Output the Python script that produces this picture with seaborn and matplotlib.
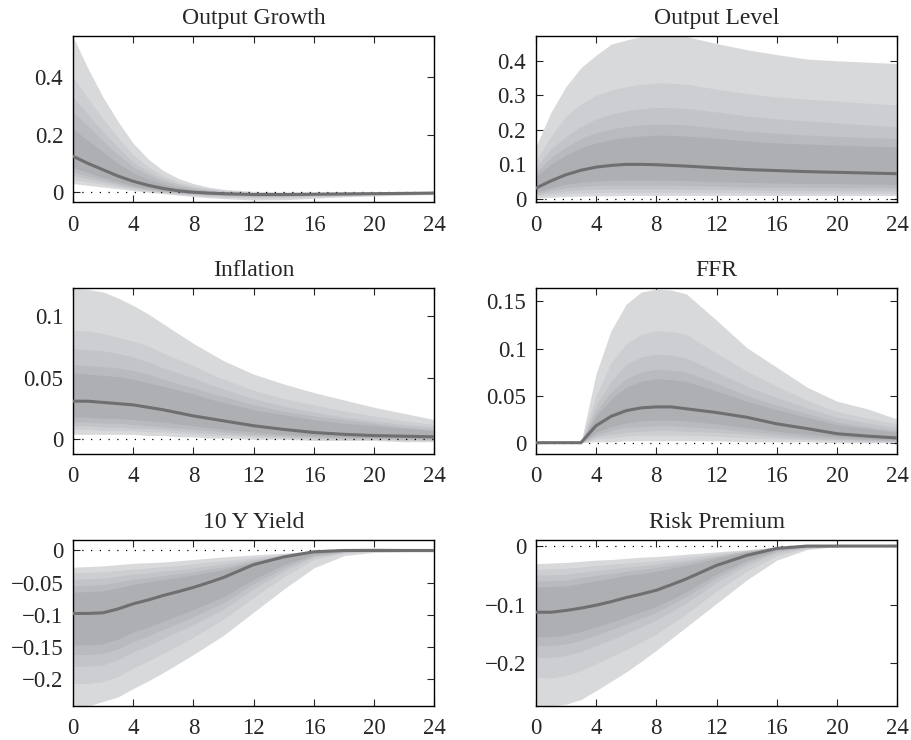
import numpy as np
import matplotlib
matplotlib.use("Agg")
import matplotlib.pyplot as plt
import seaborn as sns

# horizons (quarters)
H = [0, 1, 2, 3, 4, 5, 6, 7, 8, 9, 10, 12, 14, 16, 18, 20, 22, 24]

# Output Growth: median, upper bounds (outer -> inner), lower bounds (outer -> inner)
og_med = [.125, .10, .078, .056, .038, .024, .013, .005, .0, -.003, -.005, -.008, -.008, -.007, -.006, -.005, -.004, -.003]
og_hi = [
    [.54, .43, .33, .245, .17, .115, .075, .048, .03, .018, .01, .003, .001, .001, .001, .001, .001, .001],
    [.40, .325, .255, .19, .13, .088, .057, .036, .022, .013, .006, .0, -.001, -.001, .0, .0, .0, .0],
    [.33, .27, .21, .155, .105, .071, .046, .029, .017, .009, .003, -.002, -.003, -.003, -.002, -.002, -.001, -.001],
    [.28, .23, .178, .13, .088, .06, .038, .023, .013, .006, .001, -.004, -.004, -.004, -.003, -.003, -.002, -.002],
    [.22, .18, .14, .10, .068, .045, .028, .016, .008, .002, -.002, -.006, -.006, -.005, -.005, -.004, -.003, -.002],
]
og_lo = [
    [.03, .024, .018, .012, .006, .0, -.005, -.01, -.015, -.019, -.022, -.027, -.026, -.021, -.016, -.013, -.01, -.008],
    [.045, .036, .028, .019, .011, .004, -.002, -.007, -.011, -.014, -.017, -.020, -.019, -.016, -.013, -.010, -.008, -.006],
    [.058, .047, .036, .025, .015, .007, .001, -.004, -.008, -.011, -.014, -.016, -.016, -.013, -.010, -.008, -.006, -.005],
    [.07, .056, .043, .030, .019, .01, .003, -.002, -.006, -.009, -.011, -.014, -.013, -.011, -.009, -.007, -.005, -.004],
    [.085, .068, .052, .037, .024, .014, .006, .0, -.004, -.007, -.009, -.011, -.011, -.009, -.007, -.006, -.005, -.004],
]

# Output Level
ol_med = [.031, .052, .07, .083, .092, .097, .10, .10, .099, .097, .095, .09, .085, .082, .079, .077, .075, .073]
ol_hi = [
    [.15, .25, .325, .38, .416, .448, .46, .47, .474, .473, .47, .45, .432, .418, .405, .40, .396, .392],
    [.11, .18, .24, .275, .30, .315, .325, .332, .336, .335, .332, .318, .305, .295, .289, .283, .277, .272],
    [.09, .145, .18, .21, .232, .245, .255, .261, .265, .264, .262, .252, .24, .232, .226, .22, .214, .209],
    [.075, .12, .15, .175, .192, .202, .21, .214, .217, .216, .214, .205, .196, .19, .185, .181, .178, .175],
    [.065, .10, .127, .148, .162, .172, .178, .182, .185, .184, .182, .175, .168, .162, .159, .156, .153, .151],
]
ol_lo = [
    [.003, .005, .007, .008, .009, .009, .01, .01, .01, .01, .01, .01, .01, .01, .01, .01, .01, .01],
    [.008, .012, .015, .017, .018, .019, .019, .019, .019, .019, .019, .018, .018, .017, .017, .017, .017, .017],
    [.012, .018, .023, .026, .028, .029, .029, .029, .029, .029, .028, .027, .026, .025, .025, .024, .024, .024],
    [.016, .025, .032, .036, .039, .040, .040, .040, .040, .040, .039, .037, .035, .034, .034, .033, .033, .032],
    [.02, .032, .042, .048, .052, .054, .055, .055, .055, .054, .053, .05, .048, .046, .045, .044, .043, .042],
]

# Inflation
inf_med = [.031, .031, .030, .029, .028, .026, .024, .0215, .019, .017, .015, .011, .008, .0055, .004, .003, .0025, .002]
inf_hi = [
    [.123, .122, .12, .115, .109, .102, .094, .086, .078, .071, .064, .053, .045, .038, .032, .026, .021, .016],
    [.089, .088, .086, .083, .080, .076, .070, .065, .060, .054, .049, .040, .033, .028, .023, .019, .015, .012],
    [.074, .073, .072, .070, .067, .063, .058, .054, .050, .045, .041, .033, .027, .022, .018, .015, .012, .010],
    [.061, .060, .059, .058, .056, .053, .049, .045, .042, .038, .035, .028, .023, .019, .016, .013, .010, .008],
    [.054, .053, .052, .051, .049, .046, .043, .040, .037, .033, .030, .024, .020, .016, .013, .011, .009, .007],
]
inf_lo = [
    [.004, .004, .004, .004, .004, .003, .003, .002, .002, .001, .001, .0, .0, -.001, -.001, -.001, -.002, -.002],
    [.008, .008, .007, .007, .007, .006, .006, .005, .004, .003, .003, .002, .001, .0, .0, .0, -.001, -.001],
    [.011, .011, .010, .010, .009, .009, .008, .007, .006, .005, .004, .003, .002, .001, .0, .0, .0, -.001],
    [.014, .014, .013, .013, .012, .011, .010, .009, .008, .007, .006, .004, .003, .002, .001, .001, .0, .0],
    [.018, .018, .017, .017, .016, .015, .014, .0125, .011, .0095, .008, .006, .004, .003, .002, .001, .001, .0],
]

# FFR
ffr_med = [0, 0, 0, 0, .018, .028, .034, .037, .038, .038, .036, .032, .027, .02, .015, .0095, .007, .005]
ffr_hi = [
    [0, 0, 0, 0, .073, .119, .147, .16, .163, .162, .158, .13, .101, .08, .059, .044, .036, .025],
    [0, 0, 0, 0, .05, .085, .105, .115, .119, .118, .115, .095, .076, .06, .045, .033, .026, .02],
    [0, 0, 0, 0, .04, .065, .083, .091, .094, .093, .09, .075, .06, .048, .037, .027, .021, .016],
    [0, 0, 0, 0, .033, .054, .068, .075, .078, .077, .075, .063, .05, .04, .031, .022, .017, .013],
    [0, 0, 0, 0, .028, .046, .059, .065, .068, .067, .065, .055, .044, .035, .027, .019, .015, .011],
]
ffr_lo = [
    [0, 0, 0, 0, .001, .001, .002, .002, .002, .002, .002, .002, .001, .001, .001, .0, .0, .0],
    [0, 0, 0, 0, .004, .005, .007, .008, .008, .008, .008, .007, .005, .004, .003, .002, .001, .001],
    [0, 0, 0, 0, .006, .009, .011, .012, .013, .013, .012, .011, .009, .006, .004, .003, .002, .001],
    [0, 0, 0, 0, .008, .013, .016, .017, .018, .018, .017, .015, .012, .009, .006, .004, .003, .002],
    [0, 0, 0, 0, .011, .017, .021, .023, .024, .024, .023, .02, .016, .012, .009, .006, .004, .003],
]

# 10 Y Yield
ty_med = [-.098, -.098, -.097, -.091, -.083, -.077, -.07, -.064, -.0575, -.05, -.042, -.022, -.01, -.002, .0, .0, .0, .0]
ty_hi = [
    [-.026, -.025, -.024, -.022, -.020, -.019, -.018, -.016, -.014, -.012, -.010, -.007, -.004, -.001, .003, .004, .003, .001],
    [-.035, -.034, -.033, -.031, -.029, -.027, -.025, -.023, -.021, -.018, -.016, -.011, -.006, -.002, .002, .003, .002, .0],
    [-.045, -.044, -.043, -.040, -.037, -.035, -.032, -.030, -.027, -.024, -.021, -.014, -.007, -.002, .001, .002, .001, .0],
    [-.055, -.054, -.053, -.049, -.045, -.042, -.039, -.036, -.033, -.029, -.026, -.016, -.008, -.002, .001, .001, .001, .0],
    [-.065, -.064, -.063, -.058, -.053, -.049, -.045, -.042, -.038, -.034, -.030, -.018, -.009, -.003, .0, .001, .0, .0],
]
ty_lo = [
    [-.242, -.242, -.235, -.228, -.215, -.203, -.19, -.176, -.162, -.147, -.132, -.096, -.06, -.027, -.008, -.003, -.002, -.002],
    [-.207, -.207, -.204, -.196, -.183, -.172, -.160, -.148, -.135, -.121, -.107, -.073, -.041, -.014, -.004, -.002, -.002, -.002],
    [-.180, -.180, -.178, -.170, -.158, -.148, -.137, -.126, -.115, -.103, -.091, -.060, -.032, -.010, -.003, -.001, -.001, -.001],
    [-.162, -.162, -.160, -.153, -.142, -.133, -.123, -.113, -.103, -.092, -.081, -.052, -.027, -.008, -.002, -.001, -.001, -.001],
    [-.147, -.147, -.145, -.138, -.127, -.119, -.110, -.101, -.092, -.082, -.072, -.045, -.022, -.006, -.002, -.001, -.001, -.001],
]

# Risk Premium
rp_med = [-.113, -.113, -.110, -.106, -.101, -.095, -.088, -.082, -.0755, -.066, -.056, -.033, -.016, -.004, .0, .0, .0, .0]
rp_hi = [
    [-.030, -.029, -.028, -.026, -.024, -.023, -.021, -.019, -.018, -.016, -.014, -.010, -.006, -.002, .001, .001, .001, .0],
    [-.040, -.039, -.038, -.036, -.033, -.031, -.029, -.027, -.025, -.022, -.019, -.013, -.007, -.002, .0, .001, .0, .0],
    [-.050, -.049, -.048, -.045, -.042, -.039, -.036, -.034, -.031, -.027, -.024, -.016, -.008, -.002, .0, .0, .0, .0],
    [-.060, -.059, -.058, -.054, -.050, -.047, -.043, -.040, -.037, -.032, -.028, -.018, -.009, -.003, .0, .0, .0, .0],
    [-.070, -.069, -.068, -.064, -.059, -.055, -.050, -.047, -.043, -.038, -.033, -.021, -.010, -.003, .0, .0, .0, .0],
]
rp_lo = [
    [-.273, -.273, -.270, -.262, -.247, -.231, -.215, -.197, -.178, -.158, -.138, -.098, -.058, -.024, -.006, -.001, .0, .0],
    [-.225, -.225, -.221, -.213, -.201, -.189, -.177, -.164, -.150, -.133, -.116, -.077, -.043, -.016, -.004, -.001, .0, .0],
    [-.190, -.190, -.187, -.180, -.170, -.160, -.149, -.138, -.126, -.112, -.097, -.062, -.033, -.011, -.003, -.001, .0, .0],
    [-.170, -.170, -.167, -.161, -.152, -.143, -.133, -.123, -.113, -.100, -.086, -.054, -.028, -.009, -.002, .0, .0, .0],
    [-.155, -.155, -.152, -.146, -.138, -.130, -.121, -.112, -.103, -.091, -.078, -.048, -.024, -.007, -.001, .0, .0, .0],
]

titles = ["Output Growth", "Output Level", "Inflation", "FFR", "10 Y Yield", "Risk Premium"]
yticks = [[0, .2, .4], [0, .1, .2, .3, .4], [0, .05, .1], [0, .05, .1, .15],
          [0, -.05, -.1, -.15, -.2], [0, -.1, -.2]]
ylims = [(-.034, .541), (-.009, .471), (-.012, .123), (-.012, .164), (-.242, .016), (-.273, .01)]
xticks = [0, 4, 8, 12, 16, 20, 24]

panels = [(og_med, og_hi, og_lo), (ol_med, ol_hi, ol_lo), (inf_med, inf_hi, inf_lo),
          (ffr_med, ffr_hi, ffr_lo), (ty_med, ty_hi, ty_lo), (rp_med, rp_hi, rp_lo)]

band_colors = ["#d8d9db", "#cdced1", "#c3c4c7", "#b9babd", "#aeafb2"]

sns.set_style("ticks")
plt.rcParams['font.family'] = ['Liberation Serif', 'DejaVu Serif']
plt.rcParams['font.size'] = 16

fig, axes = plt.subplots(3, 2, figsize=(9.11, 7.40), dpi=100)
plt.subplots_adjust(left=0.08, right=0.985, top=0.951, bottom=0.046, wspace=0.28, hspace=0.52)

for ax, title, (med, hi, lo), yt, yl in zip(axes.flat, titles, panels, yticks, ylims):
    # nested percentile bands, widest first
    for k in range(5):
        ax.fill_between(H, lo[k], hi[k], color=band_colors[k], lw=0, zorder=1)
    ax.axhline(0, color="black", lw=0.9, ls=(0, (1, 6)), zorder=2)
    sns.lineplot(x=H, y=med, ax=ax, color="#6f6f71", lw=2.2, zorder=3)
    ax.set_xlim(0, 24)
    ax.set_ylim(*yl)
    ax.set_xticks(xticks)
    ax.set_yticks(yt)
    ax.set_yticklabels([f"{v:g}".replace("-", "\u2212") for v in yt])
    ax.tick_params(direction="in", length=5, width=0.8, top=True, right=True, labelsize=16.5)
    ax.tick_params(axis="x", pad=9)
    ax.tick_params(axis="y", pad=7)
    for sp in ax.spines.values():
        sp.set_linewidth(1.0)
        sp.set_color("black")
    ax.set_title(title, fontsize=17, pad=9)

plt.savefig("out.png", dpi=100)
plt.close()
